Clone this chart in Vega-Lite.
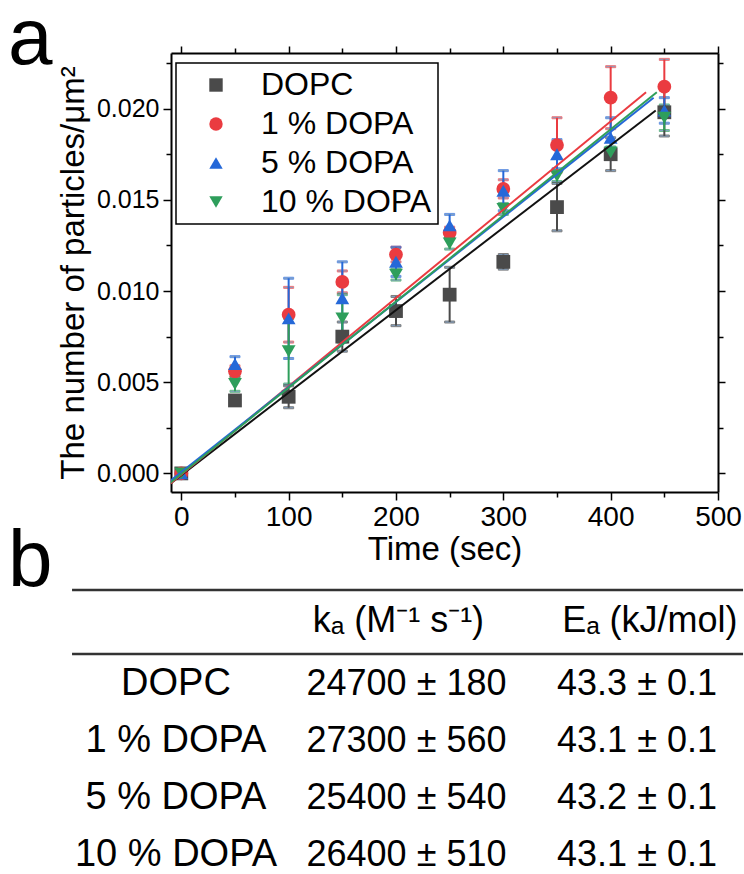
{
  "$schema": "https://vega.github.io/schema/vega-lite/v6.json",
  "autosize": {"type": "pad"},
  "padding": {"left": 8, "top": 0, "right": 0, "bottom": 0},
  "background": "white",
  "bounds": "flush",
  "spacing": 98,
  "config": {
    "view": {"stroke": null},
    "font": "Liberation Sans",
    "axis": {"labelFont": "Liberation Sans", "titleFont": "Liberation Sans", "grid": false, "domainColor": "black", "tickColor": "black", "labelColor": "black", "titleColor": "black", "domainWidth": 2, "tickWidth": 1.5, "titleFontWeight": "normal"},
    "legend": {"strokeWidth": 1.5},
    "title": {"font": "Liberation Sans", "fontWeight": "normal", "color": "black"},
    "text": {"font": "Liberation Sans", "color": "black"}
  },
  "datasets": {
    "pts": [
      {"s": "DOPC", "t": 0, "y": 0.0, "e": 0.0001},
      {"s": "DOPC", "t": 50, "y": 0.0040, "e": 0.0002},
      {"s": "DOPC", "t": 100, "y": 0.0042, "e": 0.0006},
      {"s": "DOPC", "t": 150, "y": 0.0075, "e": 0.0008},
      {"s": "DOPC", "t": 200, "y": 0.0089, "e": 0.0008},
      {"s": "DOPC", "t": 250, "y": 0.0098, "e": 0.0015},
      {"s": "DOPC", "t": 300, "y": 0.0116, "e": 0.0004},
      {"s": "DOPC", "t": 350, "y": 0.0146, "e": 0.0013},
      {"s": "DOPC", "t": 400, "y": 0.0175, "e": 0.0009},
      {"s": "DOPC", "t": 450, "y": 0.0198, "e": 0.0013},
      {"s": "1 % DOPA", "t": 0, "y": 0.0, "e": 0.0001},
      {"s": "1 % DOPA", "t": 50, "y": 0.0056, "e": 0.0003},
      {"s": "1 % DOPA", "t": 100, "y": 0.0087, "e": 0.0015},
      {"s": "1 % DOPA", "t": 150, "y": 0.0105, "e": 0.0006},
      {"s": "1 % DOPA", "t": 200, "y": 0.0120, "e": 0.0004},
      {"s": "1 % DOPA", "t": 250, "y": 0.0132, "e": 0.0003},
      {"s": "1 % DOPA", "t": 300, "y": 0.0156, "e": 0.0005},
      {"s": "1 % DOPA", "t": 350, "y": 0.0180, "e": 0.0015},
      {"s": "1 % DOPA", "t": 400, "y": 0.0206, "e": 0.0017},
      {"s": "1 % DOPA", "t": 450, "y": 0.0212, "e": 0.0015},
      {"s": "5 % DOPA", "t": 0, "y": 0.0, "e": 0.0001},
      {"s": "5 % DOPA", "t": 50, "y": 0.0060, "e": 0.0004},
      {"s": "5 % DOPA", "t": 100, "y": 0.0085, "e": 0.0022},
      {"s": "5 % DOPA", "t": 150, "y": 0.0096, "e": 0.0020},
      {"s": "5 % DOPA", "t": 200, "y": 0.0116, "e": 0.0008},
      {"s": "5 % DOPA", "t": 250, "y": 0.0136, "e": 0.0006},
      {"s": "5 % DOPA", "t": 300, "y": 0.0155, "e": 0.0011},
      {"s": "5 % DOPA", "t": 350, "y": 0.0175, "e": 0.0008},
      {"s": "5 % DOPA", "t": 400, "y": 0.0184, "e": 0.0011},
      {"s": "5 % DOPA", "t": 450, "y": 0.0199, "e": 0.0007},
      {"s": "10 % DOPA", "t": 0, "y": 0.0, "e": 0.0001},
      {"s": "10 % DOPA", "t": 50, "y": 0.0049, "e": 0.0004},
      {"s": "10 % DOPA", "t": 100, "y": 0.0067, "e": 0.0018},
      {"s": "10 % DOPA", "t": 150, "y": 0.0085, "e": 0.0013},
      {"s": "10 % DOPA", "t": 200, "y": 0.0109, "e": 0.0003},
      {"s": "10 % DOPA", "t": 250, "y": 0.0126, "e": 0.0003},
      {"s": "10 % DOPA", "t": 300, "y": 0.0145, "e": 0.0003},
      {"s": "10 % DOPA", "t": 350, "y": 0.0163, "e": 0.0003},
      {"s": "10 % DOPA", "t": 400, "y": 0.0176, "e": 0.0003},
      {"s": "10 % DOPA", "t": 450, "y": 0.0195, "e": 0.0007}
    ],
    "fits": [
      {"s": "DOPC", "t": -10, "y": -0.00055},
      {"s": "DOPC", "t": 442, "y": 0.0199},
      {"s": "1 % DOPA", "t": -10, "y": -0.00055},
      {"s": "1 % DOPA", "t": 433, "y": 0.0209},
      {"s": "5 % DOPA", "t": -10, "y": -0.0004},
      {"s": "5 % DOPA", "t": 440, "y": 0.0206},
      {"s": "10 % DOPA", "t": -10, "y": -0.0005},
      {"s": "10 % DOPA", "t": 443, "y": 0.0209}
    ],
    "header": [
      {"ka": "kₐ (M⁻¹ s⁻¹)", "Ea": "Eₐ (kJ/mol)"}
    ],
    "table": [
      {"row": 1, "name": "DOPC", "ka": "24700 ± 180", "Ea": "43.3 ± 0.1"},
      {"row": 2, "name": "1 % DOPA", "ka": "27300 ± 560", "Ea": "43.1 ± 0.1"},
      {"row": 3, "name": "5 % DOPA", "ka": "25400 ± 540", "Ea": "43.2 ± 0.1"},
      {"row": 4, "name": "10 % DOPA", "ka": "26400 ± 510", "Ea": "43.1 ± 0.1"}
    ]
  },
  "vconcat": [
    {
      "width": 547,
      "height": 439,
      "title": {"text": "a", "anchor": "start", "frame": "group", "orient": "top", "fontSize": 80, "baseline": "alphabetic", "offset": 0, "dx": -163, "dy": 99},
      "layer": [
        {
          "data": {"name": "pts"},
          "mark": {"type": "errorbar", "ticks": true, "size": 10, "thickness": 2},
          "encoding": {
            "x": {"field": "t", "type": "quantitative", "scale": {"domain": [-9.6, 500], "nice": false, "zero": false},
              "axis": {"orient": "bottom", "values": [0, 50, 100, 150, 200, 250, 300, 350, 400, 450, 500], "labelExpr": "datum.value % 100 === 0 ? datum.label : ''", "tickSize": {"condition": {"test": "datum.value % 100 === 0", "value": 8}, "value": 5}, "title": "Time (sec)", "titleFontSize": 33, "labelFontSize": 28, "labelPadding": 3, "titlePadding": 2, "labelFlush": false, "labelOverlap": false}},
            "y": {"field": "y", "type": "quantitative", "scale": {"domain": [-0.00102, 0.02305], "nice": false, "zero": false},
              "axis": {"orient": "left", "values": [0, 0.0025, 0.005, 0.0075, 0.01, 0.0125, 0.015, 0.0175, 0.02, 0.0225], "labelExpr": "round(datum.value*400) % 2 === 0 ? format(datum.value, '.3f') : ''", "tickSize": {"condition": {"test": "round(datum.value*400) % 2 === 0", "value": 8}, "value": 5}, "title": "The number of particles/μm²", "titleFontSize": 33, "labelFontSize": 25, "labelPadding": 4, "titlePadding": 6, "labelFlush": false, "labelOverlap": false}},
            "yError": {"field": "e"},
            "stroke": {"field": "s", "type": "nominal", "scale": {"domain": ["1 % DOPA", "5 % DOPA", "10 % DOPA", "DOPC"], "range": ["#ea3b40", "#2568d8", "#2e9e5b", "#4a4a4a"]}, "legend": null}
          }
        },
        {
          "data": {"name": "pts"},
          "mark": {"type": "point", "filled": true, "size": 190, "opacity": 1},
          "encoding": {
            "x": {"field": "t", "type": "quantitative", "scale": {"domain": [-9.6, 500], "nice": false, "zero": false},
              "axis": {"orient": "top", "values": [0, 50, 100, 150, 200, 250, 300, 350, 400, 450, 500], "labels": false, "title": null, "tickSize": {"condition": {"test": "datum.value % 100 === 0", "value": 7}, "value": 5}}},
            "y": {"field": "y", "type": "quantitative", "scale": {"domain": [-0.00102, 0.02305], "nice": false, "zero": false},
              "axis": {"orient": "right", "values": [0, 0.0025, 0.005, 0.0075, 0.01, 0.0125, 0.015, 0.0175, 0.02, 0.0225], "labels": false, "title": null, "tickSize": {"condition": {"test": "round(datum.value*400) % 2 === 0", "value": 7}, "value": 5}}},
            "color": {"field": "s", "type": "nominal", "title": null, "scale": {"domain": ["DOPC", "1 % DOPA", "5 % DOPA", "10 % DOPA"], "range": ["#4a4a4a", "#ea3b40", "#2568d8", "#2e9e5b"]},
              "legend": {"orient": "none", "legendX": 5, "legendY": 10, "title": null, "labelFontSize": 32, "labelColor": "black", "labelFont": "Liberation Sans", "symbolSize": 180, "strokeColor": "black", "fillColor": "white", "padding": 6, "rowPadding": 7, "symbolOffset": 18, "labelOffset": 29, "labelLimit": 400}},
            "shape": {"field": "s", "type": "nominal", "title": null, "scale": {"domain": ["DOPC", "1 % DOPA", "5 % DOPA", "10 % DOPA"], "range": ["square", "circle", "triangle-up", "triangle-down"]},
              "legend": {"orient": "none", "legendX": 5, "legendY": 10, "title": null, "labelFontSize": 32, "labelColor": "black", "labelFont": "Liberation Sans", "symbolSize": 180, "strokeColor": "black", "fillColor": "white", "padding": 6, "rowPadding": 7, "symbolOffset": 18, "labelOffset": 29, "labelLimit": 400}}
          }
        },
        {
          "data": {"name": "fits"},
          "mark": {"type": "line", "strokeWidth": 2, "clip": true},
          "encoding": {
            "x": {"field": "t", "type": "quantitative", "axis": null},
            "y": {"field": "y", "type": "quantitative", "axis": null},
            "detail": {"field": "s", "type": "nominal"},
            "stroke": {"condition": {"test": "datum.s === 'DOPC'", "value": "#111111"}, "field": "s", "type": "nominal", "legend": null}
          }
        }
      ],
      "resolve": {"axis": {"x": "independent", "y": "independent"}}
    },
    {
      "width": 547,
      "height": 284,
      "title": {"text": "b", "anchor": "start", "frame": "group", "orient": "top", "fontSize": 80, "baseline": "alphabetic", "offset": 0, "dx": -163, "dy": 77},
      "layer": [
        {
          "data": {"name": "header"},
          "mark": {"type": "rule", "strokeWidth": 2.5, "color": "#333333"},
          "encoding": {
            "x": {"datum": 0.549, "type": "quantitative", "scale": {"domain": [0.9783, 3.3514], "nice": false, "zero": false}, "axis": null},
            "x2": {"datum": 3.46},
            "y": {"datum": -0.649, "type": "quantitative", "scale": {"domain": [-0.649, 4.333], "nice": false, "zero": false, "reverse": true}, "axis": null}
          }
        },
        {
          "data": {"name": "header"},
          "mark": {"type": "rule", "strokeWidth": 2.5, "color": "#333333"},
          "encoding": {
            "x": {"datum": 0.549, "type": "quantitative", "scale": {"domain": [0.9783, 3.3514], "nice": false, "zero": false}, "axis": null},
            "x2": {"datum": 3.46},
            "y": {"datum": 0.474, "type": "quantitative", "scale": {"domain": [-0.649, 4.333], "nice": false, "zero": false, "reverse": true}, "axis": null}
          }
        },
        {
          "data": {"name": "header"},
          "mark": {"type": "text", "fontSize": 36, "align": "center", "baseline": "middle", "dy": -5.5},
          "encoding": {
            "x": {"datum": 1.965, "type": "quantitative", "scale": {"domain": [0.9783, 3.3514], "nice": false, "zero": false}, "axis": null},
            "y": {"datum": 0, "type": "quantitative", "scale": {"domain": [-0.649, 4.333], "nice": false, "zero": false, "reverse": true}, "axis": null},
            "text": {"field": "ka"}
          }
        },
        {
          "data": {"name": "header"},
          "mark": {"type": "text", "fontSize": 36, "align": "center", "baseline": "middle", "dy": -5.5},
          "encoding": {
            "x": {"datum": 3.056, "type": "quantitative", "scale": {"domain": [0.9783, 3.3514], "nice": false, "zero": false}, "axis": null},
            "y": {"datum": 0, "type": "quantitative", "scale": {"domain": [-0.649, 4.333], "nice": false, "zero": false, "reverse": true}, "axis": null},
            "text": {"field": "Ea"}
          }
        },
        {
          "data": {"name": "table"},
          "mark": {"type": "text", "fontSize": 38, "align": "center", "baseline": "middle"},
          "encoding": {
            "x": {"datum": 1, "type": "quantitative", "scale": {"domain": [0.9783, 3.3514], "nice": false, "zero": false}, "axis": null},
            "y": {"field": "row", "type": "quantitative", "scale": {"domain": [-0.649, 4.333], "nice": false, "zero": false, "reverse": true}, "axis": null},
            "text": {"field": "name"}
          }
        },
        {
          "data": {"name": "table"},
          "mark": {"type": "text", "fontSize": 36, "align": "center", "baseline": "middle"},
          "encoding": {
            "x": {"datum": 2, "type": "quantitative", "scale": {"domain": [0.9783, 3.3514], "nice": false, "zero": false}, "axis": null},
            "y": {"field": "row", "type": "quantitative", "scale": {"domain": [-0.649, 4.333], "nice": false, "zero": false, "reverse": true}, "axis": null},
            "text": {"field": "ka"}
          }
        },
        {
          "data": {"name": "table"},
          "mark": {"type": "text", "fontSize": 36, "align": "center", "baseline": "middle"},
          "encoding": {
            "x": {"datum": 3, "type": "quantitative", "scale": {"domain": [0.9783, 3.3514], "nice": false, "zero": false}, "axis": null},
            "y": {"field": "row", "type": "quantitative", "scale": {"domain": [-0.649, 4.333], "nice": false, "zero": false, "reverse": true}, "axis": null},
            "text": {"field": "Ea"}
          }
        }
      ]
    }
  ]
}
